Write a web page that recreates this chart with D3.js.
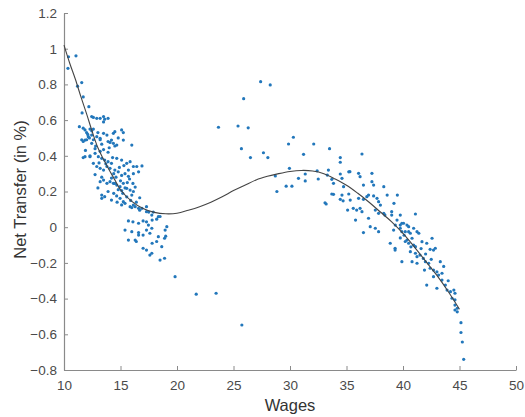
<!DOCTYPE html>
<html>
<head>
<meta charset="utf-8">
<script src="https://cdn.jsdelivr.net/npm/d3@7"></script>
<style>
    body { margin: 0; background: #fff; }
    svg { display: block; font-family: "Liberation Sans", Arial, sans-serif; }
    .axis path, .axis line { stroke: #8a8a8a; }
    .axis text { fill: #4a4a4a; font-size: 13.5px; }
</style>
</head>
<body>
<div id="chart"></div>
<script>
// tick values
const xTicks = [10, 15, 20, 25, 30, 35, 40, 45, 50];
const yTicks = [-0.8, -0.6, -0.4, -0.2, 0, 0.2, 0.4, 0.6, 0.8, 1, 1.2];

// fitted curve
const fitWages = [10, 10.5, 11, 11.5, 12, 12.5, 13, 13.5, 14, 14.5, 15, 16, 17, 18, 19, 20, 21, 22, 23, 24,
    25, 26, 27, 28, 29, 30, 31, 32, 33, 34, 35, 36, 37, 38, 39, 40, 41, 42, 43, 44, 45];
const fitTransfer = [1.02, 0.92, 0.83, 0.73, 0.635, 0.535, 0.445, 0.38, 0.32, 0.265, 0.21, 0.145, 0.105, 0.083, 0.075,
    0.078, 0.095, 0.115, 0.14, 0.17, 0.205, 0.235, 0.265, 0.285, 0.30, 0.312, 0.318, 0.315, 0.30, 0.27,
    0.235, 0.19, 0.14, 0.085, 0.03, -0.035, -0.11, -0.19, -0.27, -0.36, -0.46];

// observations [wage, net transfer], grouped roughly by area
const lowWageTop = [
    [10.35, 0.89], [10.4, 0.955], [11.06, 0.96], [11.2, 0.79], [11.57, 0.81], [11.7, 0.73], [12.2, 0.675], [11.6, 0.64],
    [12.45, 0.62], [12.6, 0.615], [12.9, 0.61], [13.2, 0.61], [13.5, 0.62], [13.6, 0.605], [13.9, 0.61], [13.5, 0.59],
    [11.36, 0.563], [11.7, 0.555], [11.86, 0.545], [12.0, 0.53], [12.3, 0.55], [12.45, 0.54], [12.6, 0.55],
    [14.37, 0.526], [15.1, 0.545], [15.25, 0.53], [14.5, 0.535],
    [11.57, 0.49], [12.0, 0.49], [12.45, 0.47], [13.2, 0.49], [13.34, 0.465], [14.07, 0.475], [14.5, 0.455], [16.0, 0.46],
    [11.7, 0.48], [11.86, 0.488], [12.15, 0.507], [12.45, 0.516], [12.9, 0.507], [13.2, 0.498], [13.5, 0.526],
    [13.8, 0.516], [13.9, 0.48], [14.2, 0.488], [14.37, 0.47], [14.67, 0.46], [15.25, 0.488],
    [11.7, 0.39], [12.3, 0.395], [12.75, 0.44], [13.2, 0.425], [13.5, 0.435], [13.9, 0.42],
    [12.1, 0.52], [12.25, 0.5], [12.6, 0.49], [13.0, 0.53], [12.8, 0.455], [14.0, 0.445], [14.8, 0.5], [11.9, 0.43]
];
const lowWageMid = [
    [11.86, 0.395], [12.3, 0.40], [12.75, 0.414], [13.04, 0.395], [13.34, 0.386], [13.6, 0.376], [13.9, 0.367],
    [14.2, 0.358], [14.67, 0.386], [15.1, 0.376], [15.55, 0.358], [15.85, 0.367], [16.14, 0.34], [16.44, 0.34], [16.9, 0.343],
    [12.6, 0.358], [12.9, 0.34], [13.2, 0.33], [13.5, 0.32], [13.8, 0.34], [14.07, 0.33], [14.5, 0.32], [14.8, 0.31],
    [15.1, 0.29], [15.4, 0.30], [15.7, 0.32], [16.14, 0.30], [16.6, 0.31], [12.75, 0.295], [13.34, 0.28], [15.7, 0.285],
    [13.5, 0.264], [13.8, 0.246], [14.07, 0.255], [14.37, 0.246], [14.67, 0.236], [14.96, 0.227], [15.25, 0.246],
    [15.55, 0.218], [15.85, 0.208], [16.14, 0.20], [14.5, 0.245], [14.8, 0.21], [15.1, 0.205], [15.4, 0.22], [16.1, 0.245],
    [13.34, 0.162], [13.6, 0.171], [14.2, 0.152], [14.96, 0.162], [15.25, 0.143], [15.4, 0.134], [15.85, 0.115],
    [16.14, 0.124], [16.6, 0.106], [16.9, 0.106], [17.3, 0.087], [17.77, 0.068], [18.35, 0.059],
    [13.34, 0.18], [14.66, 0.175], [15.55, 0.17], [16.0, 0.18], [16.7, 0.165],
    [15.1, 0.125], [16.0, 0.11], [16.3, 0.115], [16.7, 0.095], [17.3, 0.115], [17.5, 0.085], [17.9, 0.085], [18.5, 0.06],
    [13.1, 0.36], [13.7, 0.355], [14.3, 0.39], [14.4, 0.3], [14.9, 0.335], [15.3, 0.345], [14.2, 0.275], [14.6, 0.28],
    [15.0, 0.26], [15.6, 0.25], [13.9, 0.2], [14.4, 0.19], [15.2, 0.19], [15.9, 0.15], [14.7, 0.14], [16.4, 0.14],
    [13.0, 0.22], [13.2, 0.255], [15.8, 0.27], [16.3, 0.225]
];
const lowWageBottom = [
    [15.7, 0.035], [16.1, 0.03], [17.0, 0.035], [17.3, 0.03], [17.8, 0.04], [18.2, 0.045], [16.6, 0.022], [17.47, 0.012],
    [17.77, -0.006], [15.4, -0.016], [16.0, -0.025], [16.6, -0.03], [17.3, -0.016], [17.6, -0.034], [19.1, 0.003], [18.95, -0.016],
    [15.7, -0.072], [16.3, -0.072], [16.6, -0.044], [17.0, -0.044], [18.35, -0.053], [18.9, -0.062], [17.8, -0.09],
    [16.4, -0.08], [18.2, -0.08], [17.0, -0.118], [17.3, -0.128], [17.77, -0.146], [18.65, -0.109], [17.6, -0.156],
    [18.5, -0.184], [18.9, -0.174], [19.0, -0.05], [19.83, -0.277]
];
const middleWage = [
    [21.7, -0.375], [23.46, -0.37], [25.74, -0.548],
    [27.4, 0.815], [28.25, 0.797], [25.9, 0.72], [23.67, 0.56], [25.4, 0.567], [26.3, 0.557], [25.7, 0.44],
    [26.5, 0.39], [27.65, 0.417], [28.04, 0.39], [30.3, 0.504], [29.87, 0.466], [31.2, 0.408], [32.1, 0.466],
    [33.5, 0.44], [34.45, 0.39], [34.45, 0.364], [35.2, 0.31], [29.95, 0.33], [28.7, 0.287],
    [30.75, 0.274], [31.35, 0.298], [31.35, 0.259], [32.4, 0.316], [32.5, 0.27],
    [33.4, 0.32], [33.3, 0.292], [33.7, 0.268], [33.85, 0.246], [34.45, 0.298], [34.6, 0.274], [34.74, 0.227],
    [29.66, 0.23], [30.17, 0.23], [28.84, 0.20],
    [33.7, 0.186], [33.85, 0.184], [33.1, 0.137], [33.2, 0.13], [34.45, 0.156], [34.7, 0.148], [35.1, 0.096], [35.2, 0.186]
];
const highWage = [
    [36.37, 0.41], [35.3, 0.311], [36.07, 0.302], [36.2, 0.283], [37.25, 0.302], [36.5, 0.236], [37.25, 0.255],
    [37.4, 0.236], [38.3, 0.227], [34.6, 0.18], [35.33, 0.152], [36.07, 0.162], [36.5, 0.156], [36.8, 0.171],
    [36.95, 0.18], [37.4, 0.175], [37.7, 0.162], [37.84, 0.143], [38.0, 0.124], [38.6, 0.18], [39.5, 0.18], [39.2, 0.134],
    [35.6, 0.106], [35.9, 0.096], [36.2, 0.106], [36.37, 0.087], [37.55, 0.096], [37.84, 0.078], [38.3, 0.078],
    [38.4, 0.068], [39.0, 0.087], [39.0, 0.068], [39.76, 0.068], [39.47, 0.04], [39.32, 0.012], [39.9, 0.022],
    [39.17, -0.016], [39.76, -0.006], [40.2, -0.025], [40.5, 0.003], [40.65, -0.034], [35.8, 0.04],
    [36.95, 0.05], [37.1, 0.003], [37.55, -0.006], [37.84, -0.025], [36.5, -0.03], [38.87, -0.09],
    [39.76, -0.06], [40.2, -0.08], [39.3, -0.118], [41.1, 0.074], [39.76, 0.012], [40.05, 0.022], [40.35, 0.012],
    [39.9, -0.025], [40.5, -0.025], [40.94, -0.006], [41.24, -0.025], [41.4, -0.034], [39.3, -0.128],
    [40.35, -0.072], [40.5, -0.09], [40.8, -0.062], [40.94, -0.10], [41.1, -0.109],
    [41.68, -0.081], [42.1, -0.09], [42.57, -0.062], [42.7, -0.128], [42.86, -0.118], [42.4, -0.124],
    [40.65, -0.137], [41.1, -0.146], [41.24, -0.165], [41.5, -0.156], [41.8, -0.175], [40.8, -0.193], [41.24, -0.202], [39.9, -0.193],
    [41.98, -0.193], [42.27, -0.202], [43.3, -0.193], [42.4, -0.23], [42.7, -0.24], [43.0, -0.25], [43.15, -0.268],
    [42.7, -0.277], [43.45, -0.258], [42.1, -0.324], [43.0, -0.342],
    [43.45, -0.296], [43.75, -0.324], [43.9, -0.352], [44.2, -0.361], [44.5, -0.352], [44.6, -0.37], [44.34, -0.398],
    [44.6, -0.407], [44.6, -0.436], [44.8, -0.454], [44.6, -0.464], [44.8, -0.474],
    [45.13, -0.535], [45.13, -0.59], [45.25, -0.643], [45.37, -0.74],
    [40.1, -0.045], [40.7, -0.11], [41.6, -0.12], [42.0, -0.15], [42.5, -0.18], [41.9, -0.24], [43.6, -0.22], [44.0, -0.3]
];

const observations = [...lowWageTop, ...lowWageMid, ...lowWageBottom, ...middleWage, ...highWage];

const margin = {top: 13, right: 9, bottom: 47, left: 64};
const width = 525 - margin.left - margin.right;
const height = 417 - margin.top - margin.bottom;

const svg = d3.select('#chart').append('svg')
    .attr('width', 525)
    .attr('height', 417);

const g = svg.append('g')
    .attr('transform', `translate(${margin.left},${margin.top})`);

const x = d3.scaleLinear().domain([10, 50]).range([0, width]);
const y = d3.scaleLinear().domain([-0.8, 1.2]).range([height, 0]);

// axes, ticks pointing inward like matlab
g.append('g')
    .attr('class', 'axis')
    .attr('transform', `translate(0,${height})`)
    .call(d3.axisBottom(x).tickValues(xTicks).tickSizeInner(-4).tickSizeOuter(0).tickPadding(10));

g.append('g')
    .attr('class', 'axis')
    .call(d3.axisLeft(y).tickValues(yTicks).tickSizeInner(-4).tickSizeOuter(0).tickPadding(7)
        .tickFormat(d3.format('~g')));

g.selectAll('.axis .domain').attr('stroke-width', 1.2);

// scatter
g.append('g')
    .selectAll('circle')
    .data(observations)
    .enter().append('circle')
    .attr('cx', d => x(d[0]))
    .attr('cy', d => y(d[1]))
    .attr('r', 1.6)
    .attr('fill', '#2277bb');

// fitted line
const line = d3.line()
    .x(d => x(d[0]))
    .y(d => y(d[1]))
    .curve(d3.curveCatmullRom);

g.append('path')
    .datum(fitWages.map((w, i) => [w, fitTransfer[i]]))
    .attr('d', line)
    .attr('fill', 'none')
    .attr('stroke', '#444')
    .attr('stroke-width', 1.1);

// labels
svg.append('text')
    .attr('x', margin.left + width / 2)
    .attr('y', 411)
    .attr('text-anchor', 'middle')
    .style('font-size', '16.5px')
    .style('fill', '#333')
    .text('Wages');

svg.append('text')
    .attr('transform', `translate(26,${margin.top + height / 2 - 2}) rotate(-90)`)
    .attr('text-anchor', 'middle')
    .style('font-size', '16.5px')
    .style('fill', '#333')
    .text('Net Transfer (in %)');
</script>
</body>
</html>
